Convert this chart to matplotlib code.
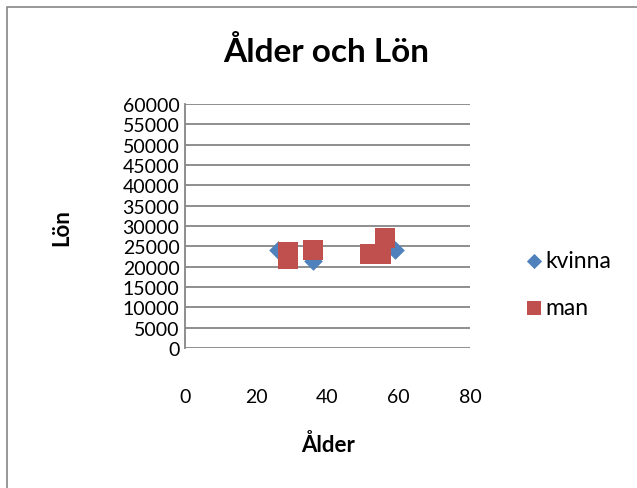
import matplotlib.pyplot as plt
from matplotlib.patches import Rectangle

# Ålder (år) och lön (kr) per kön
kvinna_alder = [26, 36, 59]
kvinna_lon = [24000, 21500, 24000]
man_alder = [29, 29, 36, 52, 55, 56]
man_lon = [23500, 22000, 24000, 23000, 23000, 27000]

y_ticks = list(range(0, 60001, 5000))
x_ticks = [0, 20, 40, 60, 80]

plt.rcParams['font.family'] = ['Lato', 'DejaVu Sans']

W, H = 637, 489
fig = plt.figure(figsize=(W / 100, H / 100), dpi=100)
ax = fig.add_axes([185 / W, 1 - 349 / H, 285 / W, 244 / H])

blue = '#4F81BD'
red = '#C0504D'
ax.scatter(kvinna_alder, kvinna_lon, marker='D', s=90, color=blue,
           label='kvinna', zorder=3, linewidths=0)
ax.scatter(man_alder, man_lon, marker='s', s=205, color=red,
           label='man', zorder=4, linewidths=0)

ax.set_xlim(0, 80)
ax.set_ylim(0, 60000)
ax.set_xticks(x_ticks)
ax.set_yticks(y_ticks)
ax.yaxis.grid(True, color='#868686', linewidth=1.3)
ax.set_axisbelow(True)
for s in ['top', 'right', 'bottom']:
    ax.spines[s].set_visible(False)
ax.spines['left'].set_color('#868686')
ax.spines['left'].set_linewidth(1.3)
ax.tick_params(axis='both', length=0, labelsize=14)
ax.tick_params(axis='x', pad=29)
ax.tick_params(axis='y', pad=4)

fig.text(326 / W, 1 - 52 / H, 'Ålder och Lön', fontsize=24, fontweight='bold',
         ha='center', va='center')
fig.text(328 / W, 1 - 445 / H, 'Ålder', fontsize=16, fontweight='bold',
         ha='center', va='center')
fig.text(62 / W, 1 - 228 / H, 'Lön', fontsize=16, fontweight='bold',
         ha='center', va='center', rotation=90)

leg = ax.legend(loc='upper left', bbox_to_anchor=(518 / W, 1 - 251 / H),
                bbox_transform=fig.transFigure, frameon=False,
                fontsize=16.5, handletextpad=-0.2, labelspacing=1.15,
                handlelength=1.4, borderaxespad=0, borderpad=0)
leg.legend_handles[0].set_sizes([60])
leg.legend_handles[1].set_sizes([110])

# ram runt diagrammet
fig.patches.append(Rectangle((7 / W, -0.1), 1.2, 1 - 8 / H + 0.1,
                             transform=fig.transFigure, fill=False,
                             edgecolor='#868686', linewidth=1.2))

fig.savefig('out.png', dpi=100)
